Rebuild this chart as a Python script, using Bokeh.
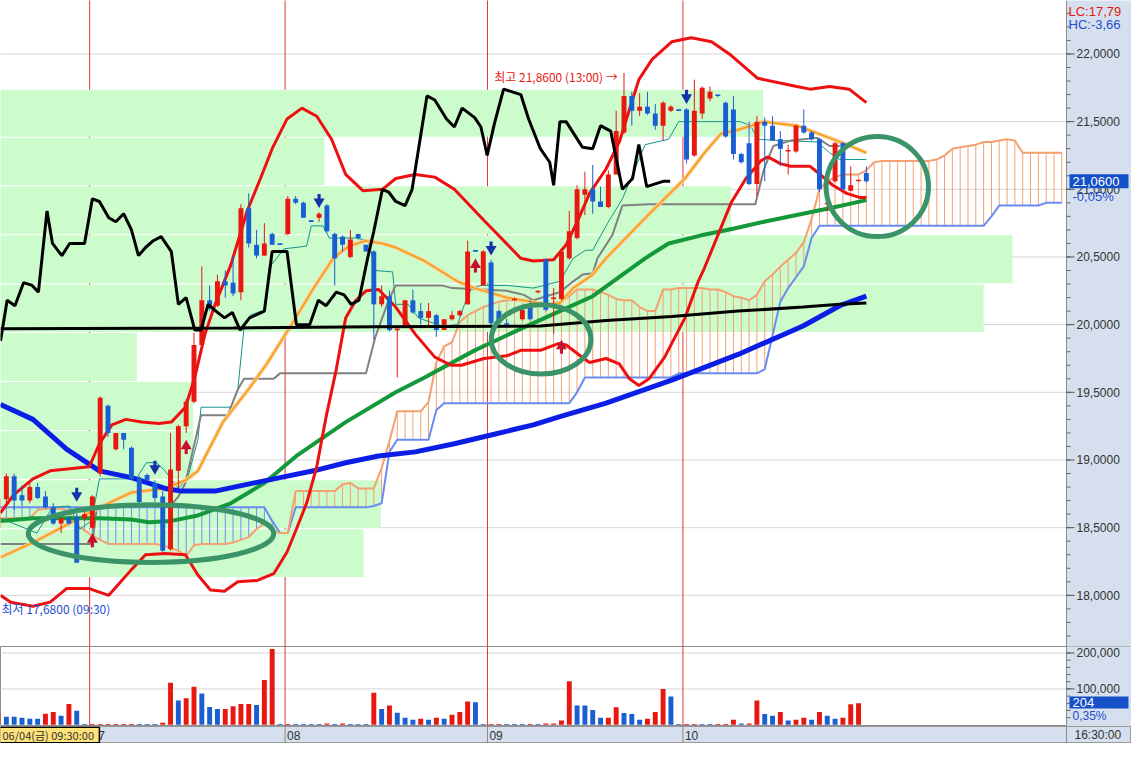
from bokeh.plotting import figure
from bokeh.layouts import column
from bokeh.models import Range1d
from bokeh.core.properties import value
from bokeh.embed import file_html
from bokeh.resources import INLINE

# ---------------- candles (bar index 0..111) ----------------
opens = [18.50, 18.71, 18.88, 18.74, 18.70, 18.80, 18.73, 18.65, 18.53, 18.57,
         18.58, 18.57, 18.50, 18.90, 19.40, 19.08, 19.20, 19.09, 18.87, 18.89,
         18.83, 18.73, 18.34, 18.92, 19.25, 19.43, 19.85, 20.18, 20.14, 20.32,
         20.31, 20.24, 20.86, 20.59, 20.51, 20.67, 20.60, 20.67, 20.93, 20.90,
         20.77, 20.79, 20.88, 20.67, 20.65, 20.50, 20.67, 20.59, 20.54, 20.15,
         20.21, 19.96, 19.99, 20.18, 20.10, 20.05, 20.07, 19.96, 20.04, 20.07,
         20.15, 20.55, 20.29, 20.46, 20.10, 20.01, 20.18, 20.04, 20.15, 20.24,
         20.48, 20.19, 20.19, 20.49, 20.64, 20.96, 21.00, 20.91, 20.87, 21.11,
         21.42, 21.69, 21.58, 21.61, 21.56, 21.47, 21.58, 21.59, 21.59, 21.25,
         21.56, 21.67, 21.70, 21.64, 21.59, 21.26, 21.34, 21.04, 21.50, 21.47,
         21.37, 21.28, 21.28, 21.47, 21.42, 21.37, 20.89, 21.06, 21.34, 20.99,
         21.06, 21.12]
highs = [18.75, 18.90, 18.90, 18.81, 18.83, 18.83, 18.77, 18.68, 18.58, 18.59,
         18.60, 18.62, 18.74, 19.47, 19.41, 19.20, 19.20, 19.10, 18.88, 18.90,
         18.85, 18.77, 19.20, 19.26, 19.45, 19.94, 20.43, 20.29, 20.37, 20.40,
         20.51, 20.89, 20.97, 20.70, 20.75, 20.68, 20.60, 20.95, 20.95, 20.91,
         20.77, 20.83, 20.89, 20.68, 20.66, 20.70, 20.67, 20.59, 20.55, 20.29,
         20.25, 19.97, 20.18, 20.26, 20.16, 20.16, 20.08, 20.04, 20.10, 20.11,
         20.62, 20.55, 20.55, 20.48, 20.11, 20.04, 20.20, 20.12, 20.18, 20.25,
         20.49, 20.27, 20.55, 20.84, 21.03, 21.13, 21.18, 21.02, 21.14, 21.58,
         21.86, 21.72, 21.71, 21.72, 21.63, 21.65, 21.62, 21.59, 21.60, 21.81,
         21.76, 21.76, 21.70, 21.65, 21.69, 21.27, 21.50, 21.54, 21.53, 21.54,
         21.43, 21.33, 21.48, 21.59, 21.43, 21.38, 20.95, 21.35, 21.35, 21.17,
         21.07, 21.17]
lows = [18.48, 18.68, 18.63, 18.66, 18.68, 18.71, 18.64, 18.52, 18.46, 18.52,
        18.24, 18.55, 18.49, 18.88, 19.17, 19.07, 19.08, 18.85, 18.68, 18.85,
        18.69, 18.32, 18.33, 18.79, 19.20, 19.42, 19.83, 20.10, 20.13, 20.20,
        20.21, 20.18, 20.57, 20.49, 20.51, 20.59, 20.59, 20.66, 20.89, 20.79,
        20.76, 20.76, 20.68, 20.29, 20.54, 20.49, 20.63, 20.54, 19.89, 20.13,
        19.95, 19.61, 19.98, 20.08, 20.00, 19.98, 19.91, 19.96, 20.03, 20.06,
        20.15, 20.54, 20.29, 20.00, 20.00, 20.00, 20.18, 20.03, 20.03, 20.23,
        20.10, 19.93, 20.18, 20.48, 20.63, 20.81, 20.82, 20.87, 20.86, 21.11,
        21.41, 21.47, 21.54, 21.55, 21.44, 21.36, 21.57, 21.58, 21.19, 21.24,
        21.52, 21.65, 21.68, 21.38, 21.22, 21.19, 21.03, 20.95, 21.06, 21.36,
        21.17, 21.11, 21.27, 21.41, 21.36, 20.98, 20.84, 21.05, 20.99, 20.99,
        21.06, 21.05]
closes = [18.72, 18.88, 18.70, 18.70, 18.80, 18.72, 18.65, 18.53, 18.57, 18.53,
          18.24, 18.60, 18.73, 19.46, 19.20, 19.20, 19.15, 18.86, 18.69, 18.85,
          18.72, 18.33, 18.93, 19.25, 19.43, 19.85, 20.18, 20.12, 20.32, 20.29,
          20.23, 20.86, 20.60, 20.51, 20.60, 20.59, 20.59, 20.93, 20.90, 20.79,
          20.76, 20.82, 20.69, 20.49, 20.59, 20.63, 20.64, 20.54, 20.15, 20.21,
          19.96, 19.97, 20.18, 20.09, 20.05, 20.10, 19.96, 20.04, 20.07, 20.10,
          20.54, 20.54, 20.54, 20.01, 20.01, 20.00, 20.19, 20.11, 20.04, 20.25,
          20.11, 20.20, 20.54, 20.69, 21.00, 21.00, 20.91, 20.87, 21.11, 21.43,
          21.69, 21.58, 21.61, 21.56, 21.47, 21.64, 21.61, 21.58, 21.22, 21.58,
          21.75, 21.72, 21.69, 21.39, 21.26, 21.20, 21.04, 21.50, 21.47, 21.36,
          21.30, 21.29, 21.47, 21.42, 21.37, 21.00, 20.90, 21.34, 21.00, 21.03,
          21.07, 21.06]

# ---------------- volume ----------------
volumes = [34000, 22500, 22500, 20000, 17000, 17000, 31000, 36000, 25000, 58000,
           39000, 2500, 2500, 2500, 2500, 2500, 2500, 2500, 2500, 2500,
           2500, 6000, 117000, 68000, 74000, 106000, 87000, 50000, 44000, 44000,
           52000, 58000, 58000, 55000, 125000, 211000, 2500, 2500, 2500, 2500,
           2500, 2500, 3600, 2500, 3600, 2500, 2500, 2500, 89000, 44000,
           54000, 34000, 20000, 14000, 17000, 14000, 20000, 17000, 28000, 36000,
           65000, 63000, 2500, 2500, 2500, 2500, 2500, 2500, 2500, 2500,
           4000, 4000, 12000, 121000, 54000, 54000, 41000, 20000, 20000, 49000,
           33000, 30000, 14000, 17000, 36000, 100000, 79000, 2500, 2500, 2500,
           2500, 2500, 2500, 2500, 14000, 4000, 4000, 68000, 30000, 25000,
           36000, 12000, 14000, 20000, 14000, 36000, 25000, 17000, 20000, 57000,
           60000, 204]
vol_dir = ("rbbbbbrrbr" "bbrrrrrrbb" "brrbrrbbbr" "rrrbrrbrbb" "bbrbrbbbrb" "rbbbrbrbrr"
           "rbbrrbbbrb" "rrrrbbbbrr" "bbbrrrbbrr" "bbrrrbrrbb" "rbrrbrbbrr" "rb")

# ---------------- ichimoku spans (bar index 0..136) ----------------
span_a = [18.57, 18.57, 18.57, 18.57, 18.57, 18.63, 18.64, 18.64, 18.64, 18.62,
          18.52, 18.48, 18.44, 18.41, 18.38, 18.38, 18.38, 18.38, 18.38, 18.38,
          18.38, 18.37, 18.35, 18.33, 18.29, 18.37, 18.38, 18.38, 18.38, 18.38,
          18.39, 18.41, 18.43, 18.49, 18.53, 18.48, 18.46, 18.46, 18.77, 18.77,
          18.77, 18.77, 18.77, 18.77, 18.82, 18.83, 18.79, 18.79, 18.79, 18.94,
          19.14, 19.36, 19.36, 19.36, 19.36, 19.43, 19.72, 19.84, 19.87, 20.02,
          20.07, 20.10, 20.13, 20.15, 20.17, 20.18, 20.18, 20.18, 20.16, 20.16,
          20.15, 20.16, 20.17, 20.21, 20.26, 20.26, 20.26, 20.24, 20.22, 20.19,
          20.18, 20.18, 20.13, 20.10, 20.10, 20.26, 20.26, 20.27, 20.27, 20.27,
          20.27, 20.26, 20.26, 20.24, 20.21, 20.20, 20.18, 20.22, 20.32, 20.37,
          20.43, 20.48, 20.53, 20.61, 20.78, 21.00, 21.06, 21.09, 21.11, 21.11,
          21.11, 21.14, 21.20, 21.21, 21.21, 21.21, 21.21, 21.21, 21.21, 21.21,
          21.22, 21.25, 21.30, 21.31, 21.32, 21.33, 21.35, 21.35, 21.36, 21.37,
          21.36, 21.27, 21.27, 21.27, 21.27, 21.27, 21.27]
span_b = [18.65, 18.65, 18.65, 18.65, 18.65, 18.65, 18.65, 18.65, 18.65, 18.65,
          18.65, 18.65, 18.65, 18.65, 18.65, 18.65, 18.65, 18.65, 18.65, 18.65,
          18.65, 18.65, 18.65, 18.65, 18.65, 18.65, 18.65, 18.65, 18.65, 18.65,
          18.65, 18.65, 18.65, 18.65, 18.65, 18.55, 18.46, 18.46, 18.65, 18.65,
          18.65, 18.65, 18.65, 18.65, 18.65, 18.65, 18.65, 18.65, 18.66, 18.68,
          19.06, 19.15, 19.15, 19.15, 19.15, 19.15, 19.37, 19.42, 19.42, 19.42,
          19.42, 19.42, 19.42, 19.42, 19.42, 19.42, 19.42, 19.42, 19.42, 19.42,
          19.42, 19.42, 19.42, 19.42, 19.50, 19.61, 19.61, 19.61, 19.61, 19.61,
          19.61, 19.61, 19.61, 19.61, 19.61, 19.61, 19.61, 19.64, 19.64, 19.64,
          19.64, 19.64, 19.64, 19.64, 19.64, 19.64, 19.64, 19.64, 19.67, 19.92,
          20.17, 20.27, 20.35, 20.43, 20.64, 20.73, 20.73, 20.73, 20.73, 20.73,
          20.73, 20.73, 20.73, 20.73, 20.73, 20.73, 20.73, 20.73, 20.73, 20.73,
          20.73, 20.73, 20.73, 20.73, 20.73, 20.73, 20.73, 20.80, 20.88, 20.88,
          20.88, 20.88, 20.88, 20.88, 20.90, 20.90, 20.90]

# ---------------- indicator lines (bar index, price) ----------------
bb_up_x = [0.25, 1.9, 4.4, 6.6, 11.6, 12.9, 14.5, 16.3, 18.3, 20.5, 22.1, 23.9, 25.1, 26.4, 27.7,
           29.7, 31.8, 33.5, 35.0, 36.9, 38.8, 40.7, 42.6, 44.4, 46.6, 49.1, 50.8, 53.3, 55.8,
           58.3, 62.1, 66.8, 68.4, 71.0, 72.6, 74.1, 75.6, 77.7, 79.4, 80.7, 81.9, 83.6, 86.1,
           88.6, 91.2, 93.7, 97.1, 102.1, 103.8, 106.3, 108.8, 111.0]
bb_up_y = [18.61, 18.74, 18.86, 18.92, 18.95, 19.12, 19.26, 19.30, 19.28, 19.27, 19.28, 19.39,
           19.61, 19.93, 20.15, 20.44, 20.84, 21.08, 21.30, 21.52, 21.60, 21.54, 21.37, 21.11,
           20.99, 21.00, 21.08, 21.11, 21.09, 21.00, 20.77, 20.49, 20.47, 20.48, 20.59, 20.77,
           20.97, 21.15, 21.35, 21.59, 21.81, 21.96, 22.09, 22.12, 22.09, 21.99, 21.82, 21.76,
           21.74, 21.76, 21.74, 21.64]
bb_lo_x = [0.25, 1.5, 4.4, 6.6, 8.7, 11.6, 14.1, 17.0, 18.8, 21.3, 23.9, 25.5, 27.1, 28.9, 30.6,
           33.1, 35.2, 36.9, 38.1, 39.4, 40.7, 41.9, 43.2, 44.4, 45.7, 47.0, 48.6, 50.8, 53.3,
           55.8, 57.9, 59.2, 62.1, 65.0, 66.8, 69.3, 71.6, 72.6, 74.4, 75.6, 77.7, 79.4, 80.7,
           81.9, 83.2, 85.2, 87.8, 89.5, 90.3, 92.0, 93.7, 95.6, 97.5, 98.4, 100.0, 101.3, 103.8,
           105.3, 106.7, 108.5, 110.1, 111.0]
bb_lo_y = [18.00, 17.95, 17.92, 17.95, 18.05, 18.05, 18.00, 18.19, 18.30, 18.31, 18.30, 18.15,
           18.04, 18.03, 18.10, 18.11, 18.16, 18.32, 18.49, 18.68, 18.95, 19.32, 19.67, 20.05,
           20.18, 20.25, 20.26, 20.13, 19.93, 19.76, 19.70, 19.70, 19.75, 19.77, 19.81, 19.81,
           19.86, 19.85, 19.77, 19.72, 19.75, 19.71, 19.60, 19.55, 19.60, 19.76, 20.05, 20.32,
           20.42, 20.66, 20.90, 21.08, 21.21, 21.24, 21.19, 21.17, 21.17, 21.10, 21.03, 20.97,
           20.94, 20.94]
black_x = [0.25, 1.1, 2.1, 3.2, 4.3, 5.1, 6.2, 6.9, 8.1, 9.1, 11.0, 12.0, 12.9, 14.1, 15.0, 16.0,
           17.0, 17.9, 18.8, 19.8, 20.8, 22.1, 23.0, 24.0, 25.1, 25.9, 26.8, 27.8, 28.9, 29.9,
           30.9, 32.1, 34.0, 35.0, 36.9, 38.1, 39.8, 40.9, 41.9, 43.2, 44.2, 45.1, 46.1, 47.2,
           48.0, 49.1, 49.9, 50.8, 52.0, 52.9, 54.8, 55.8, 57.3, 58.3, 59.3, 60.9, 61.7, 62.5,
           63.4, 64.6, 66.8, 67.8, 69.3, 70.5, 71.0, 71.8, 72.6, 74.7, 76.0, 77.0, 78.3, 79.8,
           81.1, 81.9, 82.9, 84.0, 85.1, 85.9]
black_y = [19.88, 20.18, 20.14, 20.31, 20.29, 20.24, 20.84, 20.60, 20.51, 20.60, 20.60, 20.93,
           20.91, 20.79, 20.76, 20.82, 20.70, 20.51, 20.57, 20.62, 20.65, 20.54, 20.15, 20.20,
           19.96, 19.96, 20.15, 20.10, 20.05, 20.09, 19.96, 20.05, 20.10, 20.54, 20.54, 20.00,
           20.00, 20.18, 20.14, 20.24, 20.22, 20.15, 20.18, 20.49, 20.69, 21.00, 20.98, 20.91,
           20.88, 21.00, 21.69, 21.66, 21.52, 21.46, 21.60, 21.53, 21.46, 21.25, 21.48, 21.74,
           21.70, 21.52, 21.30, 21.20, 21.03, 21.50, 21.50, 21.31, 21.30, 21.47, 21.43, 21.00,
           21.08, 21.33, 21.02, 21.04, 21.06, 21.06]
long_black_x = [0.25, 30.0, 48.2, 69.3, 77.7, 86.1, 94.6, 102.9, 107.6, 111.0]
long_black_y = [19.97, 19.975, 19.985, 19.99, 20.03, 20.06, 20.10, 20.13, 20.15, 20.16]
blue_ma_x = [0.25, 4.4, 8.7, 12.9, 17.0, 21.3, 23.4, 27.7, 31.8, 36.0, 40.3, 44.4, 48.6, 53.3,
             58.3, 63.4, 68.4, 71.8, 77.7, 86.1, 94.6, 102.9, 107.6, 111.0]
blue_ma_y = [19.41, 19.30, 19.08, 18.92, 18.87, 18.79, 18.77, 18.77, 18.82, 18.87, 18.92, 18.98,
             19.03, 19.06, 19.12, 19.19, 19.26, 19.32, 19.42, 19.59, 19.78, 19.99, 20.14, 20.21]
green_ma_x = [0.25, 4.4, 8.7, 12.9, 17.0, 19.2, 22.1, 25.5, 29.7, 34.0, 38.1, 44.4, 50.8, 54.5,
              60.9, 67.2, 71.8, 76.0, 82.7, 85.7, 89.9, 94.1, 97.9, 102.1, 106.3, 111.0]
green_ma_y = [18.55, 18.57, 18.57, 18.57, 18.56, 18.54, 18.55, 18.59, 18.68, 18.83, 19.03, 19.28,
              19.50, 19.61, 19.81, 19.98, 20.10, 20.21, 20.49, 20.60, 20.66, 20.71, 20.76, 20.81,
              20.86, 20.92]
orange_ma_x = [0.25, 4.4, 8.7, 12.9, 17.0, 21.3, 23.9, 25.5, 28.7, 32.2, 34.3, 37.8, 40.3, 42.8,
               44.8, 47.0, 49.1, 50.8, 54.5, 58.7, 60.9, 65.0, 70.1, 71.8, 73.5, 76.0, 77.7, 83.6,
               87.8, 90.3, 92.4, 94.6, 97.9, 102.1, 106.3, 108.5, 111.0]
orange_ma_y = [18.28, 18.39, 18.52, 18.65, 18.76, 18.79, 18.85, 18.92, 19.28, 19.54, 19.71, 20.03,
               20.27, 20.49, 20.58, 20.62, 20.60, 20.57, 20.47, 20.32, 20.27, 20.20, 20.15, 20.16,
               20.27, 20.37, 20.49, 20.84, 21.08, 21.27, 21.41, 21.44, 21.50, 21.47, 21.38, 21.33,
               21.27]
teal_x = [0.25, 4.9, 6.9, 9.1, 10.4, 11.9, 12.9, 17.6, 18.9, 20.2, 21.3, 23.0, 24.2, 25.5, 25.9,
          29.7, 30.6, 31.4, 32.2, 34.0, 34.6, 36.5, 39.4, 40.0, 41.5, 42.3, 45.7, 47.3, 48.2, 50.4,
          50.8, 52.4, 53.7, 56.7, 58.7, 59.6, 60.5, 61.7, 65.0, 68.4, 71.8, 73.5, 75.1, 76.0, 77.9,
          79.8, 81.4, 82.7, 85.7, 87.0, 94.9, 96.2, 97.1, 100.0, 104.7, 106.3, 107.6, 111.0]
teal_y = [18.57, 18.46, 18.65, 18.66, 18.49, 18.55, 18.86, 18.86, 18.98, 18.98, 18.92, 18.79,
          18.87, 19.15, 19.39, 19.39, 19.52, 19.98, 20.07, 20.11, 20.42, 20.56, 20.58, 20.73,
          20.73, 20.64, 20.64, 20.62, 20.40, 20.39, 20.15, 20.15, 20.05, 19.99, 20.00, 20.15,
          20.27, 20.29, 20.29, 20.27, 20.32, 20.49, 20.55, 20.55, 20.75, 20.93, 21.15, 21.33,
          21.37, 21.50, 21.50, 21.47, 21.37, 21.36, 21.35, 21.27, 21.22, 21.22]
gray_x = [0.25, 12.0, 12.6, 22.1, 23.0, 23.9, 25.9, 29.3, 30.6, 31.4, 35.2, 36.0, 47.0, 48.2,
          49.9, 50.8, 56.7, 58.0, 65.0, 67.2, 68.4, 71.8, 73.5, 74.7, 76.0, 76.6, 78.5, 79.8,
          83.2, 96.8, 97.9, 99.1, 101.3, 104.7, 106.3, 107.6]
gray_y = [18.38, 18.38, 18.66, 18.67, 18.73, 18.83, 19.33, 19.33, 19.52, 19.60, 19.60, 19.64,
          19.64, 19.91, 20.18, 20.29, 20.29, 20.27, 20.25, 20.22, 20.18, 20.24, 20.32, 20.37,
          20.38, 20.49, 20.66, 20.88, 20.89, 20.89, 21.15, 21.32, 21.36, 21.38, 21.32, 21.32]

# ---------------- price-by-volume bands ----------------
band_lo = [21.385, 21.026, 20.664, 20.301, 19.942, 19.580, 19.218, 18.855, 18.493, 18.131]
band_hi = [21.740, 21.385, 21.026, 20.664, 20.301, 19.942, 19.580, 19.218, 18.855, 18.493]
band_end = [97.8, 41.7, 93.7, 129.7, 126.0, 17.7, 24.9, 24.9, 48.9, 46.7]

# ---------------- axis ticks ----------------
price_ticks = [18.0, 18.5, 19.0, 19.5, 20.0, 20.5, 21.0, 21.5, 22.0]
price_minor = [round(17.7 + 0.1 * k, 1) for k in range(47)]
vol_ticks = [100000, 200000]
vol_minor = [20000 * k for k in range(1, 11)]

# ---------------- marks / annotations ----------------
day_sep = [11.65, 36.65, 62.54, 87.54]
day_labels = ["07", "08", "09", "10"]
down_x = [10, 20, 41, 63, 88]
down_y = [18.75, 18.95, 20.92, 20.57, 21.69]
up_x = [12, 24, 61, 72]
up_y = [18.40, 19.09, 20.43, 19.83]
ell_x = [19.5, 69.4, 112.4]
ell_y = [18.456, 19.891, 21.02]
ell_w = [31.4, 12.75, 13.1]
ell_h = [0.425, 0.512, 0.739]
last_price = 21.06
last_volume = 204

RED = "#e8170f"
BLUE = "#1a5fd2"
TXTBLUE = "#1e4fd0"
AXBG = "#d5dfed"
W, RB = 1131, 65
X0, X1 = 0.25, 136.6                     # visible bar-index range of the plotting area
PX = (X1 - X0) / (W - RB)                # bar-index units per pixel
X_END = X0 + W * PX                      # right edge incl. axis strip
xr = Range1d(X0, X_END)
FONT_NUM = "Liberation Sans"
FONT_KR = "Noto Sans CJK KR"
PY0, PY1 = 17.622, 22.395
VY0, VY1 = -4600, 218000
H_MAIN, H_VOL, H_STRIP = 646, 80, 17

n = len(opens)
idx = list(range(n))
ccol = [RED if c > o else BLUE for o, c in zip(opens, closes)]
btop, bbot = [], []
for o, c in zip(opens, closes):
    t, b = max(o, c), min(o, c)
    if t - b < 0.012:
        m = (t + b) / 2
        t, b = m + 0.006, m - 0.006
    btop.append(t)
    bbot.append(b)


def make_fig(h, y0, y1, outline):
    f = figure(width=W, height=h, x_range=xr, y_range=Range1d(y0, y1),
               output_backend="svg", toolbar_location=None,
               x_axis_location=None, y_axis_location=None, min_border=0,
               background_fill_color="white", border_fill_color=AXBG,
               outline_line_color=outline)
    f.grid.visible = False
    return f


def right_axis(f, y0, y1, ticks, minors, labels):
    f.quad(left=[X1], right=[X_END + 1], bottom=[y0], top=[y1], fill_color=AXBG, line_color=None)
    f.segment(x0=[X1], y0=[y0], x1=[X1], y1=[y1], line_color="#8c8c8c", line_width=1)
    f.segment(x0=[X1] * len(minors), y0=minors, x1=[X1 + 4 * PX] * len(minors), y1=minors,
              line_color="#666666", line_width=1)
    f.segment(x0=[X1] * len(ticks), y0=ticks, x1=[X1 + 8 * PX] * len(ticks), y1=ticks,
              line_color="#555555", line_width=1)
    f.text(x=[X1 + 10 * PX] * len(ticks), y=ticks, text=labels,
           text_font=value(FONT_NUM), text_font_size="12px", text_color="#333333",
           text_baseline="middle", text_align="left")


def grid(f, ticks):
    f.segment(x0=[X0 - 2] * len(ticks), y0=ticks, x1=[X1] * len(ticks), y1=ticks,
              line_color="#d6d6d6", line_width=1)


def tag(f, y, text, half_h):
    f.quad(left=[X1 + 3 * PX], right=[X1 + 62 * PX], bottom=[y - half_h], top=[y + half_h],
           fill_color="#1450c8", line_color=None)
    f.text(x=[X1 + 6 * PX], y=[y], text=[text], text_font=value(FONT_NUM),
           text_font_size="13px", text_color="white", text_baseline="middle", text_align="left")


# ================= main price panel =================
main = make_fig(H_MAIN, PY0, PY1, None)
PPX = (PY1 - PY0) / H_MAIN
grid(main, price_ticks)
main.segment(x0=day_sep, y0=[17.0] * 4, x1=day_sep, y1=[23.0] * 4,
             line_color="#e03838", line_width=1)
main.quad(left=[-1] * len(band_lo), right=band_end,
          bottom=[v + 0.004 for v in band_lo], top=[v - 0.004 for v in band_hi],
          fill_color="#ccfbcc", line_color=None)

# ichimoku cloud
sidx = list(range(len(span_a)))
hcol = ["#f5a070" if a > b else "#7090f0" for a, b in zip(span_a, span_b)]
main.segment(x0=sidx, y0=span_b, x1=sidx, y1=span_a, line_color=hcol, line_width=1)
main.line(sidx, span_b, line_color="#6a8cf0", line_width=2)
main.line(sidx, span_a, line_color="#f4a070", line_width=2)

main.line(teal_x, teal_y, line_color="#12968a", line_width=1)
main.line(gray_x, gray_y, line_color="#808080", line_width=2)
main.line(orange_ma_x, orange_ma_y, line_color="#ffc89c", line_width=4)
main.line(orange_ma_x, orange_ma_y, line_color="#f0a000", line_width=1.5)
main.line(green_ma_x, green_ma_y, line_color="#14993a", line_width=4)
main.line(blue_ma_x, blue_ma_y, line_color="#0a1ee6", line_width=5)
main.line(bb_up_x, bb_up_y, line_color="#ee1010", line_width=3)
main.line(bb_lo_x, bb_lo_y, line_color="#ee1010", line_width=3)

main.segment(x0=idx, y0=lows, x1=idx, y1=highs, line_color=ccol, line_width=1)
main.vbar(x=idx, bottom=bbot, top=btop, width=0.63, fill_color=ccol, line_color=None)

main.line(long_black_x, long_black_y, line_color="black", line_width=3)
main.line(black_x, black_y, line_color="black", line_width=3)

# signal arrows
main.vbar(x=down_x, bottom=down_y, top=[v + 0.045 for v in down_y], width=0.4,
          fill_color="#1434a8", line_color=None)
main.scatter(down_x, [v - 0.012 for v in down_y], marker="inverted_triangle", size=11,
             fill_color="#1434a8", line_color=None)
main.vbar(x=up_x, bottom=[v - 0.045 for v in up_y], top=up_y, width=0.4,
          fill_color="#c8102e", line_color=None)
main.scatter(up_x, [v + 0.012 for v in up_y], marker="triangle", size=11,
             fill_color="#c8102e", line_color=None)

main.text(x=[63.4], y=[21.83], text=["최고 21,8600 (13:00) →"],
          text_font=value(FONT_KR), text_font_size="12px", text_color=RED,
          text_baseline="middle", text_align="left")
main.text(x=[X0 + 1 * PX], y=[17.90], text=["최저 17,6800 (09:30)"],
          text_font=value(FONT_KR), text_font_size="12px", text_color=TXTBLUE,
          text_baseline="middle", text_align="left")

main.ellipse(x=ell_x, y=ell_y, width=ell_w, height=ell_h, fill_color=None,
             line_color="#3a9468", line_width=5)

right_axis(main, PY0 - 1, PY1 + 1, price_ticks, price_minor,
           [f"{t:.4f}".replace(".", ",") for t in price_ticks])
main.text(x=[X1 + 2 * PX] * 2, y=[PY1 - 11 * PPX, PY1 - 24 * PPX], text=["LC:17,79", "HC:-3,66"],
          text_font=value(FONT_NUM), text_font_size="13px", text_color=[RED, TXTBLUE],
          text_baseline="middle", text_align="left")
tag(main, last_price, f"{last_price:.4f}".replace(".", ","), 7 * PPX)
main.text(x=[X1 + 6 * PX], y=[last_price - 15 * PPX], text=["-0,05%"],
          text_font=value(FONT_NUM), text_font_size="13px", text_color=TXTBLUE,
          text_baseline="middle", text_align="left")

# ================= volume panel =================
vol = make_fig(H_VOL, VY0, VY1, "#8c8c8c")
VPX = (VY1 - VY0) / H_VOL
grid(vol, vol_ticks)
vol.segment(x0=day_sep, y0=[-10000] * 4, x1=day_sep, y1=[300000] * 4,
            line_color="#e03838", line_width=1)
vcol = [RED if d == "r" else BLUE for d in vol_dir]
vol.vbar(x=idx, bottom=0, top=volumes, width=0.63, fill_color=vcol, line_color=None)
right_axis(vol, VY0 - 10000, VY1 + 10000, vol_ticks, vol_minor,
           [f"{t:,}" for t in vol_ticks])
tag(vol, 62000, str(last_volume), 6 * VPX)
vol.text(x=[X1 + 6 * PX], y=[62000 - 13 * VPX], text=["0,35%"],
         text_font=value(FONT_NUM), text_font_size="12px", text_color=TXTBLUE,
         text_baseline="middle", text_align="left")

# ================= time strip =================
strip = make_fig(H_STRIP, 0, 1, "#9a9a9a")
strip.background_fill_color = AXBG
strip.segment(x0=day_sep + [X1], y0=[0] * 5, x1=day_sep + [X1], y1=[1] * 5,
              line_color="#8c8c8c", line_width=1)
strip.text(x=[s + 0.25 for s in day_sep], y=[0.5] * 4, text=day_labels,
           text_font=value(FONT_NUM), text_font_size="12px", text_color="#333333",
           text_baseline="middle", text_align="left")
strip.quad(left=[X0 - 1], right=[12.9], bottom=[0.04], top=[0.96],
           fill_color="#ffe27a", line_color="black", line_width=1.5)
strip.text(x=[X0 + 2 * PX], y=[0.5], text=["06/04(금) 09:30:00"],
           text_font=value(FONT_KR), text_font_size="11px", text_color="#333333",
           text_baseline="middle", text_align="left")
strip.text(x=[X1 + 8 * PX], y=[0.5], text=["16:30:00"],
           text_font=value(FONT_NUM), text_font_size="12px", text_color="#333333",
           text_baseline="middle", text_align="left")

layout = column(main, vol, strip, spacing=0)
open("out.html", "w", encoding="utf-8").write(file_html(layout, INLINE))
